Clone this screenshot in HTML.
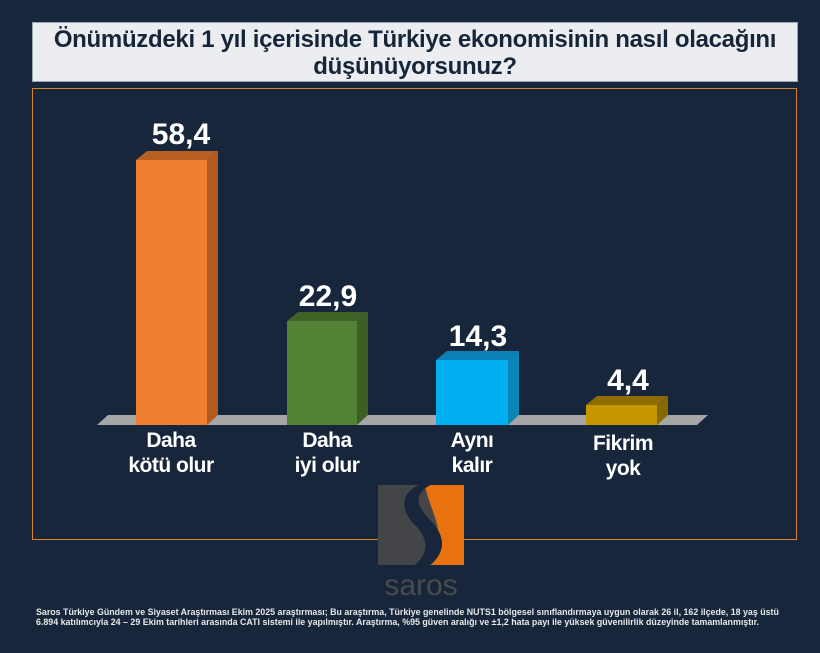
<!DOCTYPE html><html><head><meta charset="utf-8"><style>
body{margin:0;width:820px;height:653px;background:#17263a;overflow:hidden;font-family:"Liberation Sans",sans-serif;position:relative}
.t{position:absolute;left:32px;top:22px;width:766px;height:60px;background:#ecedf0;border:1px solid #9aa;box-sizing:border-box;text-align:center;font-weight:bold;font-size:24px;line-height:27px;color:#16263a;padding-top:3px;letter-spacing:-0.3px}
.b{position:absolute;left:32px;top:88px;width:765px;height:452px;border:1px solid #d9822b;box-sizing:border-box}
.v{position:absolute;color:#fff;font-weight:bold;font-size:30px;text-align:center;width:120px}
.c{position:absolute;color:#fff;font-weight:bold;font-size:21px;line-height:25px;text-align:center;width:160px;letter-spacing:-0.5px}
.f{position:absolute;left:36px;top:608px;font-size:8.85px;font-weight:bold;color:#e8e8e8;line-height:9.5px;white-space:nowrap}
</style></head><body>
<div class="t">Önümüzdeki 1 yıl içerisinde Türkiye ekonomisinin nasıl olacağını<br>düşünüyorsunuz?</div>
<div class="b"></div>
<svg width="820" height="653" style="position:absolute;left:0;top:0">
<polygon points="97,425 697,425 708,415 108,415" fill="#a6a6a6"/>
<polygon points="136,160 207,160 218,151 147,151" fill="#b85f22"/><rect x="136" y="160" width="71" height="265" fill="#ee8030"/><polygon points="207,160 218,151 218,415 207,425" fill="#b35a1f"/>
<polygon points="287,321 357,321 368,312 298,312" fill="#3f6326"/><rect x="287" y="321" width="70" height="104" fill="#548235"/><polygon points="357,321 368,312 368,415 357,425" fill="#3d5f25"/>
<polygon points="436,360 508,360 519,351 447,351" fill="#0d80b8"/><rect x="436" y="360" width="72" height="65" fill="#00b0f0"/><polygon points="508,360 519,351 519,415 508,425" fill="#0a86b5"/>
<polygon points="586,405 657,405 668,396 597,396" fill="#8d6d00"/><rect x="586" y="405" width="71" height="20" fill="#c49600"/><polygon points="657,405 668,396 668,415 657,425" fill="#866800"/>
<rect x="378" y="485" width="86" height="80" fill="#444548"/>
<path d="M425 485 L464 485 L464 565 L420 565 C455 540 430 515 425 485Z" fill="#e8730e"/>
<path d="M455 478 C400 480 395 505 415 525 C435 545 425 565 395 575 L415 575 C445 560 450 540 430 520 C410 500 415 485 455 478Z" fill="#17263a"/>
<text x="421" y="595" text-anchor="middle" font-size="30" fill="#4a4b4e" font-family="Liberation Sans">saros</text>
</svg>
<div class="v" style="left:121px;top:118px">58,4</div>
<div class="v" style="left:268px;top:280px">22,9</div>
<div class="v" style="left:418px;top:320px">14,3</div>
<div class="v" style="left:568px;top:364px">4,4</div>
<div class="c" style="left:91px;top:428px">Daha<br>kötü olur</div>
<div class="c" style="left:247px;top:428px">Daha<br>iyi olur</div>
<div class="c" style="left:392px;top:428px">Aynı<br>kalır</div>
<div class="c" style="left:543px;top:431px">Fikrim<br>yok</div>
<div class="f">Saros Türkiye Gündem ve Siyaset Araştırması Ekim 2025 araştırması; Bu araştırma, Türkiye genelinde NUTS1 bölgesel sınıflandırmaya uygun olarak 26 il, 162 ilçede, 18 yaş üstü<br>6.894 katılımcıyla 24 – 29 Ekim tarihleri arasında CATI sistemi ile yapılmıştır. Araştırma, %95 güven aralığı ve ±1,2 hata payı ile yüksek güvenilirlik düzeyinde tamamlanmıştır.</div>
</body></html>
